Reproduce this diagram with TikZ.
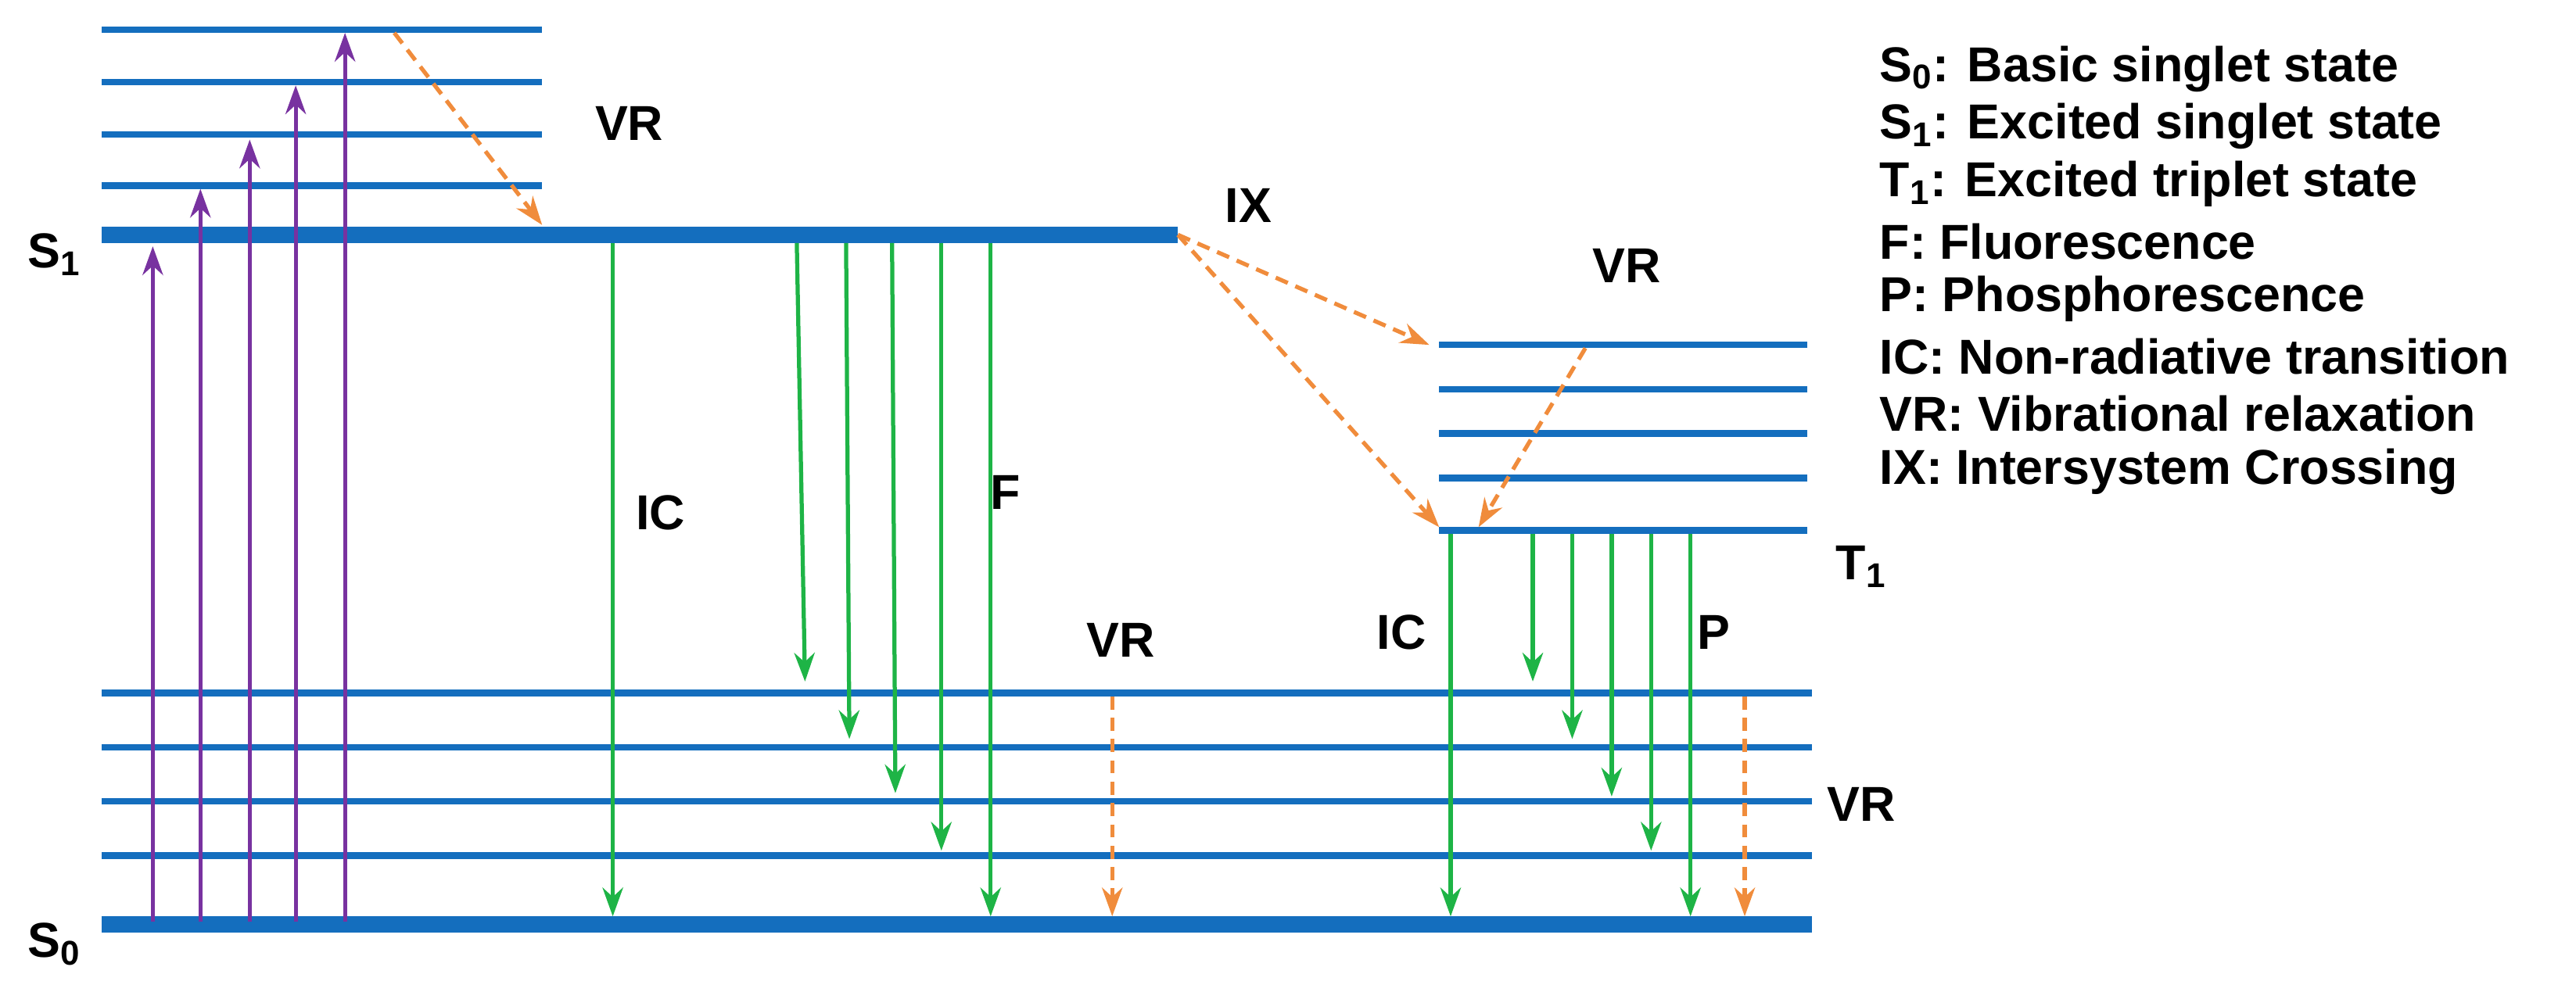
\documentclass[tikz,border=0pt]{standalone}
\usepackage{fontspec}
\setmainfont{Liberation Sans}
\usetikzlibrary{arrows.meta}
\begin{document}
\begin{tikzpicture}[x=0.02cm,y=-0.02cm,
 thk/.style={line width=0.2cm,draw={rgb,255:red,20;green,110;blue,190}},
 thn/.style={line width=0.08cm,draw={rgb,255:red,20;green,110;blue,190}},
 pu/.style={line width=0.05cm,draw={rgb,255:red,120;green,50;blue,160},-{Stealth[length=0.35cm,width=0.25cm]}},
 gr/.style={line width=0.05cm,draw={rgb,255:red,30;green,180;blue,70},-{Stealth[length=0.35cm,width=0.25cm]}},
 orr/.style={line width=0.05cm,draw={rgb,255:red,240;green,140;blue,60},dash pattern=on 0.16cm off 0.1cm,-{Stealth[length=0.35cm,width=0.25cm]}},
 lb/.style={font=\fontsize{17}{20}\selectfont\bfseries},
 lg/.style={font=\fontsize{17}{20}\selectfont\bfseries,anchor=west}]
\useasboundingbox (0,0) rectangle (1568,604);
% levels
\draw[thk] (62,143) -- (717,143);
\foreach \y in {18,50,82,113} \draw[thn] (62,\y) -- (330,\y);
\draw[thk] (62,563) -- (1103,563);
\foreach \y in {422,455,488,521} \draw[thn] (62,\y) -- (1103,\y);
\foreach \y in {210,237,264,291,323} \draw[thn] (876,\y) -- (1100,\y);
% coordinates
\foreach \n/\x/\t in {a/93/150,b/122/115,c/152/85,d/180/52,e/210/20}{
 \coordinate (\n0) at (\x,561); \coordinate (\n1) at (\x,\t); \draw[pu] (\n0) -- (\n1);}
\coordinate (v0) at (240,20); \coordinate (v1) at (330,137);
\draw[orr] (v0) -- (v1);
\coordinate (ix0) at (717,143); \coordinate (ix1) at (870,210); \coordinate (ix2) at (876,321);
\draw[orr] (ix0) -- (ix1); \draw[orr] (ix0) -- (ix2);
\coordinate (t0) at (965,212); \coordinate (t1) at (900,321); \draw[orr] (t0) -- (t1);
\coordinate (r0) at (677,424); \coordinate (r1) at (677,558); \draw[orr] (r0) -- (r1);
\coordinate (q0) at (1062,424); \coordinate (q1) at (1062,558); \draw[orr] (q0) -- (q1);
\coordinate (ic0) at (373,148); \coordinate (ic1) at (373,558); \draw[gr] (ic0) -- (ic1);
\foreach \n/\x/\u/\b in {f1/485/490/415,f2/515/517/450,f3/543/545/483,f4/573/573/518,f5/603/603/558}{
 \coordinate (\n0) at (\x,148); \coordinate (\n1) at (\u,\b); \draw[gr] (\n0) -- (\n1);}
\foreach \n/\x/\b in {g0/883/558,g1/933/415,g2/957/450,g3/981/485,g4/1005/518,g5/1029/558}{
 \coordinate (\n0) at (\x,325); \coordinate (\n1) at (\x,\b); \draw[gr] (\n0) -- (\n1);}
% labels
\node[lb] (l1) at (383,75) {VR};
\node[lb] (l2) at (760,125) {IX};
\node[lb] (l3) at (990,162) {VR};
\node[lb] (l4) at (402,312) {IC};
\node[lb] (l5) at (612,300) {F};
\node[lb] (l6) at (682,390) {VR};
\node[lb] (l7) at (853,385) {IC};
\node[lb] (l8) at (1043,385) {P};
\node[lb] (l9) at (1133,490) {VR};
\node[lb] (l10) at (1133,345) {T$_\mathbf{1}$};
\node[lb] (l11) at (33,155) {S$_\mathbf{1}$};
\node[lb] (l12) at (33,575) {S$_\mathbf{0}$};
\node[lg] (g1) at (1138,42) {S$_\mathbf{0}$: Basic singlet state};
\node[lg] (g2) at (1138,77) {S$_\mathbf{1}$: Excited singlet state};
\node[lg] (g3) at (1138,112) {T$_\mathbf{1}$: Excited triplet state};
\node[lg] (g4) at (1138,147) {F: Fluorescence};
\node[lg] (g5) at (1138,182) {P: Phosphorescence};
\node[lg] (g6) at (1138,217) {IC: Non-radiative transition};
\node[lg] (g7) at (1138,252) {VR: Vibrational relaxation};
\node[lg] (g8) at (1138,287) {IX: Intersystem Crossing};
\end{tikzpicture}
\end{document}
